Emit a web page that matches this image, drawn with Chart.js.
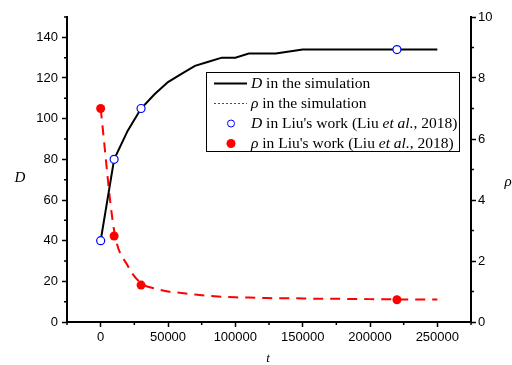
<!DOCTYPE html>
<html>
<head>
<meta charset="utf-8">
<script src="https://cdn.jsdelivr.net/npm/chart.js@4"></script>
<style>
  html, body { margin: 0; padding: 0; background: #fff; }
  canvas { display: block; }
</style>
</head>
<body>
<canvas id="chart" width="512" height="365"></canvas>
<script>
// simulation curves
const simT   = [0, 10000, 20000, 30000, 40000, 50000, 60000, 70000, 80000, 90000, 100000,
                110000, 120000, 130000, 140000, 150000, 175000, 200000, 225000, 250000];
const simD   = [40, 80, 94, 105, 112, 118, 122, 126, 128, 130, 130,
                132, 132, 132, 133, 134, 134, 134, 134, 134];
const simRho = [7.0, 3.0, 1.85, 1.27, 1.1, 1.0, 0.95, 0.9, 0.86, 0.83, 0.81,
                0.8, 0.79, 0.78, 0.78, 0.77, 0.76, 0.75, 0.74, 0.74];

// Liu et al. 2018 points
const liuT   = [0, 10000, 30000, 220000];
const liuD   = [40, 80, 105, 134];
const liuRho = [7.0, 2.82, 1.21, 0.73];

const xTicks = [0, 50000, 100000, 150000, 200000, 250000];

const pts = (xs, ys) => xs.map((x, i) => ({ x: x, y: ys[i] }));

const tickFont = { family: 'Liberation Sans, Arial, sans-serif', size: 13 };

// minor ticks, axis titles and the legend box
const extras = {
    id: 'extras',
    afterDraw: function(chart) {
        const c = chart.ctx;
        const a = chart.chartArea;
        const sx = chart.scales.x, sy = chart.scales.y, sr = chart.scales.y1;
        c.save();
        c.strokeStyle = '#000';
        c.lineWidth = 1.5;
        c.beginPath();
        for (let v = -25000; v <= 275000; v += 50000) {
            const px = sx.getPixelForValue(v);
            c.moveTo(px, a.bottom); c.lineTo(px, a.bottom + 3);
        }
        for (let v = 10; v <= 150; v += 20) {
            const py = sy.getPixelForValue(v);
            c.moveTo(a.left, py); c.lineTo(a.left - 3, py);
        }
        for (let v = 1; v <= 9; v += 2) {
            const py = sr.getPixelForValue(v);
            c.moveTo(a.right, py); c.lineTo(a.right + 3, py);
        }
        c.stroke();

        // axis titles
        c.fillStyle = '#000';
        c.textAlign = 'center';
        c.textBaseline = 'middle';
        c.font = 'italic 15px "Liberation Serif", "Times New Roman", serif';
        c.fillText('D', 20, 178);
        c.fillText('\u03C1', 508, 182);
        c.font = 'italic 13px "Liberation Serif", "Times New Roman", serif';
        c.fillText('t', 268, 359);

        // legend
        const L = 206, T = 72, W = 253, H = 79;
        c.fillStyle = '#fff';
        c.fillRect(L, T, W, H);
        c.strokeStyle = '#000';
        c.lineWidth = 1;
        c.strokeRect(L + 0.5, T + 0.5, W, H);

        const rows = [83.5, 103.5, 123.5, 143.5];
        c.lineWidth = 2;
        c.beginPath(); c.moveTo(214, rows[0]); c.lineTo(247, rows[0]); c.stroke();
        c.strokeStyle = '#ff0000';
        c.lineWidth = 1;
        c.setLineDash([2, 2]);
        c.beginPath(); c.moveTo(214, rows[1]); c.lineTo(247, rows[1]); c.stroke();
        c.setLineDash([]);
        c.strokeStyle = '#0000ff';
        c.fillStyle = '#fff';
        c.beginPath(); c.arc(231, rows[2], 3.5, 0, Math.PI * 2); c.fill(); c.stroke();
        c.fillStyle = '#ff0000';
        c.beginPath(); c.arc(231, rows[3], 4.5, 0, Math.PI * 2); c.fill();

        const serif = '"Liberation Serif", "Times New Roman", serif';
        const parts = [
            [['D', true], [' in the simulation', false]],
            [['\u03C1', true], [' in the simulation', false]],
            [['D', true], [" in Liu's work (Liu ", false], ['et al.', true], [', 2018)', false]],
            [['\u03C1', true], [" in Liu's work (Liu ", false], ['et al.', true], [', 2018)', false]]
        ];
        c.fillStyle = '#000';
        c.textAlign = 'left';
        c.textBaseline = 'middle';
        parts.forEach(function(row, i) {
            let x = 251;
            row.forEach(function(p) {
                c.font = (p[1] ? 'italic ' : '') + '15.5px ' + serif;
                c.fillText(p[0], x, rows[i]);
                x += c.measureText(p[0]).width;
            });
        });
        c.restore();
    }
};

new Chart(document.getElementById('chart'), {
    type: 'line',
    data: {
        datasets: [{
            label: 'D in Liu\'s work',
            data: pts(liuT, liuD),
            yAxisID: 'y',
            showLine: false,
            pointRadius: 4,
            pointBorderWidth: 1.2,
            pointBorderColor: '#0000ff',
            pointBackgroundColor: '#fff',
            order: 0
        }, {
            label: 'rho in Liu\'s work',
            data: pts(liuT, liuRho),
            yAxisID: 'y1',
            showLine: false,
            pointRadius: 4.5,
            pointBorderWidth: 0,
            pointBackgroundColor: '#ff0000',
            order: 0
        }, {
            label: 'D in the simulation',
            data: pts(simT, simD),
            yAxisID: 'y',
            borderColor: '#000',
            borderWidth: 2,
            pointRadius: 0,
            tension: 0,
            order: 1
        }, {
            label: 'rho in the simulation',
            data: pts(simT, simRho),
            yAxisID: 'y1',
            borderColor: '#ff0000',
            borderWidth: 2,
            borderDash: [10, 7],
            pointRadius: 0,
            cubicInterpolationMode: 'monotone',
            order: 2
        }]
    },
    options: {
        responsive: false,
        animation: false,
        layout: { padding: { top: 17, left: 0, right: 0, bottom: 0 } },
        plugins: {
            legend: { display: false },
            tooltip: { enabled: false }
        },
        scales: {
            x: {
                type: 'linear',
                min: -25000,
                max: 275000,
                afterBuildTicks: function(s) { s.ticks = xTicks.map(v => ({ value: v })); },
                afterFit: function(s) { s.height = 43; },
                ticks: {
                    color: '#000',
                    font: tickFont,
                    padding: 3,
                    maxRotation: 0,
                    callback: v => String(v)
                },
                grid: { drawOnChartArea: false, tickLength: 5, tickColor: '#000', tickWidth: 1.5 },
                border: { color: '#000', width: 2 }
            },
            y: {
                position: 'left',
                min: 0,
                max: 150,
                afterBuildTicks: function(s) { s.ticks = s.ticks.filter(t => t.value % 20 === 0); },
                afterFit: function(s) { s.width = 67; },
                ticks: { color: '#000', font: tickFont, padding: 4, stepSize: 20 },
                grid: { drawOnChartArea: false, tickLength: 5, tickColor: '#000', tickWidth: 1.5 },
                border: { color: '#000', width: 2 }
            },
            y1: {
                position: 'right',
                min: 0,
                max: 10,
                afterBuildTicks: function(s) { s.ticks = s.ticks.filter(t => t.value % 2 === 0); },
                afterFit: function(s) { s.width = 41; },
                ticks: { color: '#000', font: tickFont, padding: 2, stepSize: 2 },
                grid: { drawOnChartArea: false, tickLength: 5, tickColor: '#000', tickWidth: 1.5 },
                border: { color: '#000', width: 2 }
            }
        }
    },
    plugins: [extras]
});
</script>
</body>
</html>
